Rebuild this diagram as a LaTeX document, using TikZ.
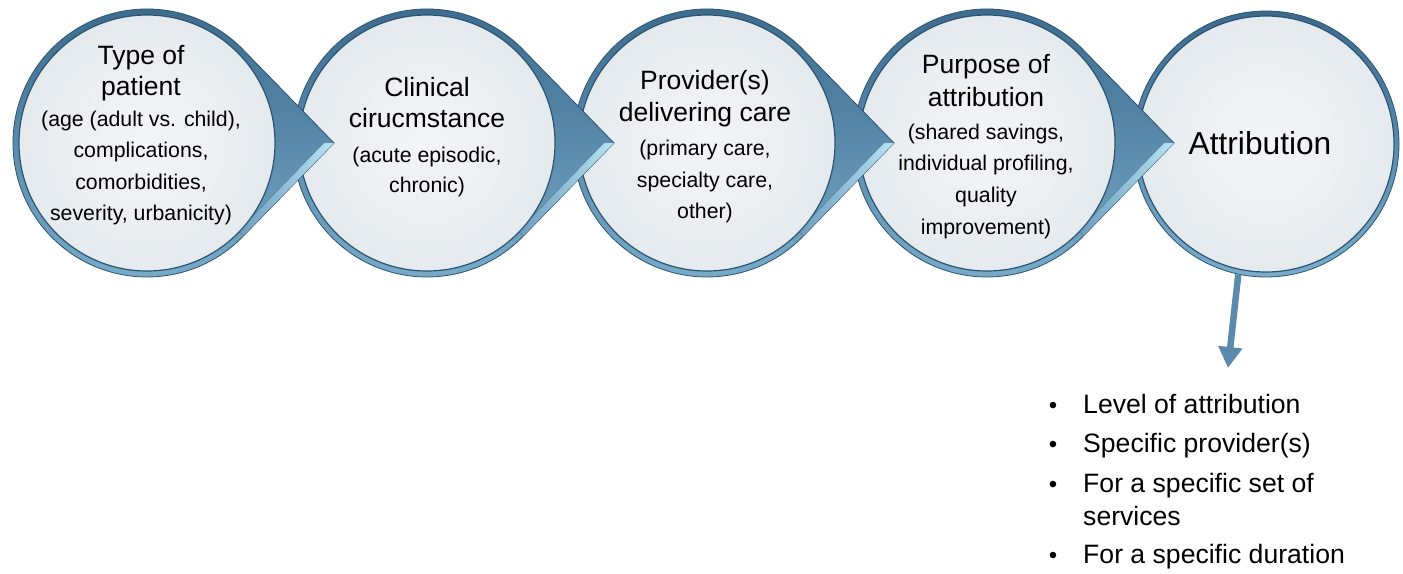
\documentclass[tikz,border=0pt]{standalone}
\usepackage{fontspec}
\setmainfont{Liberation Sans}
\usetikzlibrary{arrows.meta}
\definecolor{rimtop}{HTML}{3B6A8C}
\definecolor{rimbot}{HTML}{7AADCC}
\definecolor{rimline}{HTML}{2C5472}
\definecolor{facein}{HTML}{F3F6F8}
\definecolor{faceout}{HTML}{E5EAEE}
\definecolor{hilite}{HTML}{B8E3F5}
\definecolor{hilow}{HTML}{6C9DBD}
\definecolor{arrowblue}{HTML}{5B8AAD}
\tikzset{
  face/.style={circle, inner sep=0pt, minimum size=256pt, inner color=facein, outer color=faceout, draw=rimline, line width=1.2pt},
  drop/.style={top color=rimtop, bottom color=rimbot, draw=rimline, line width=0.8pt},
  bevel/.style={left color=hilow, right color=hilite},
  bigtxt/.style={anchor=base, inner sep=0pt, font=\fontsize{26.5}{30}\selectfont},
  smalltxt/.style={anchor=base, inner sep=0pt, font=\fontsize{21.3}{30}\selectfont},
  listtxt/.style={anchor=base west, inner sep=0pt, font=\fontsize{26.6}{30}\selectfont},
  bul/.style={anchor=base, inner sep=0pt, font=\fontsize{24}{30}\selectfont},
}
\newcommand\teardrop[1]{%
  \begin{scope}[shift={(#1)}, x=1pt, y=1pt]
    \path[drop] (96.5,92.9) -- (187,0) -- (96.5,-92.9) arc[start angle=-43.91, end angle=-316.09, radius=134] -- cycle;
    \fill[bevel] (187,0) -- (96.5,-92.9) -- (91.5,-88) -- (177,0) -- cycle;
  \end{scope}}
\begin{document}
\begin{tikzpicture}[x=1pt, y=-1pt]
\useasboundingbox (0,0) rectangle (1403,573);
\fill[white] (0,0) rectangle (1403,573);
\coordinate (p1) at (147,143);
\coordinate (p2) at (427,143);
\coordinate (p3) at (707,143);
\coordinate (p4) at (987,143);
\coordinate (p5) at (1266,144);
% circle 5
\node[circle, inner sep=0pt, minimum size=266pt, drop] (r5) at (p5) {};
\node[face] (c5) at (p5) {};
% circle 4
\teardrop{p4}
\node[face] (c4) at (p4) {};
% circle 3
\teardrop{p3}
\node[face] (c3) at (p3) {};
% circle 2
\teardrop{p2}
\node[face] (c2) at (p2) {};
% circle 1
\teardrop{p1}
\node[face] (c1) at (p1) {};
% texts
\node[bigtxt] (t1a) at (141,64) {Type of};
\node[bigtxt] (t1b) at (141,95) {patient};
\node[smalltxt] (t1c) at (141,126) {(age (adult vs. child),};
\node[smalltxt] (t1d) at (141,157) {complications,};
\node[smalltxt] (t1e) at (141,189) {comorbidities,};
\node[smalltxt] (t1f) at (141,220) {severity, urbanicity)};
\node[bigtxt] (t2a) at (427,96) {Clinical};
\node[bigtxt] (t2b) at (427,127) {cirucmstance};
\node[smalltxt] (t2c) at (427,162) {(acute episodic,};
\node[smalltxt] (t2d) at (427,192) {chronic)};
\node[bigtxt] (t3a) at (705,89) {Provider(s)};
\node[bigtxt] (t3b) at (705,121) {delivering care};
\node[smalltxt] (t3c) at (705,155) {(primary care,};
\node[smalltxt] (t3d) at (705,187) {specialty care,};
\node[smalltxt] (t3e) at (705,218) {other)};
\node[bigtxt] (t4a) at (986,73) {Purpose of};
\node[bigtxt] (t4b) at (986,106) {attribution};
\node[smalltxt] (t4c) at (986,139) {(shared savings,};
\node[smalltxt] (t4d) at (986,170) {individual profiling,};
\node[smalltxt] (t4e) at (986,202) {quality};
\node[smalltxt] (t4f) at (986,234) {improvement)};
\node[anchor=base, inner sep=0pt, font=\fontsize{31.7}{36}\selectfont] (t5) at (1260,154) {Attribution};
% arrow down
\coordinate (aend) at (1228,368);
\draw[arrowblue, line width=6.5pt, -{Triangle[width=23pt,length=21pt]}] (r5.-102) -- (aend);
% list
\node[bul] (b1) at (1053,413) {\textbullet};
\node[listtxt] (l1) at (1083,413) {Level of attribution};
\node[bul] (b2) at (1053,452) {\textbullet};
\node[listtxt] (l2) at (1083,452) {Specific provider(s)};
\node[bul] (b3) at (1053,492) {\textbullet};
\node[listtxt] (l3) at (1083,492) {For a specific set of};
\node[listtxt] (l3b) at (1083,525) {services};
\node[bul] (b4) at (1053,563) {\textbullet};
\node[listtxt] (l4) at (1083,563) {For a specific duration};
\end{tikzpicture}
\end{document}
